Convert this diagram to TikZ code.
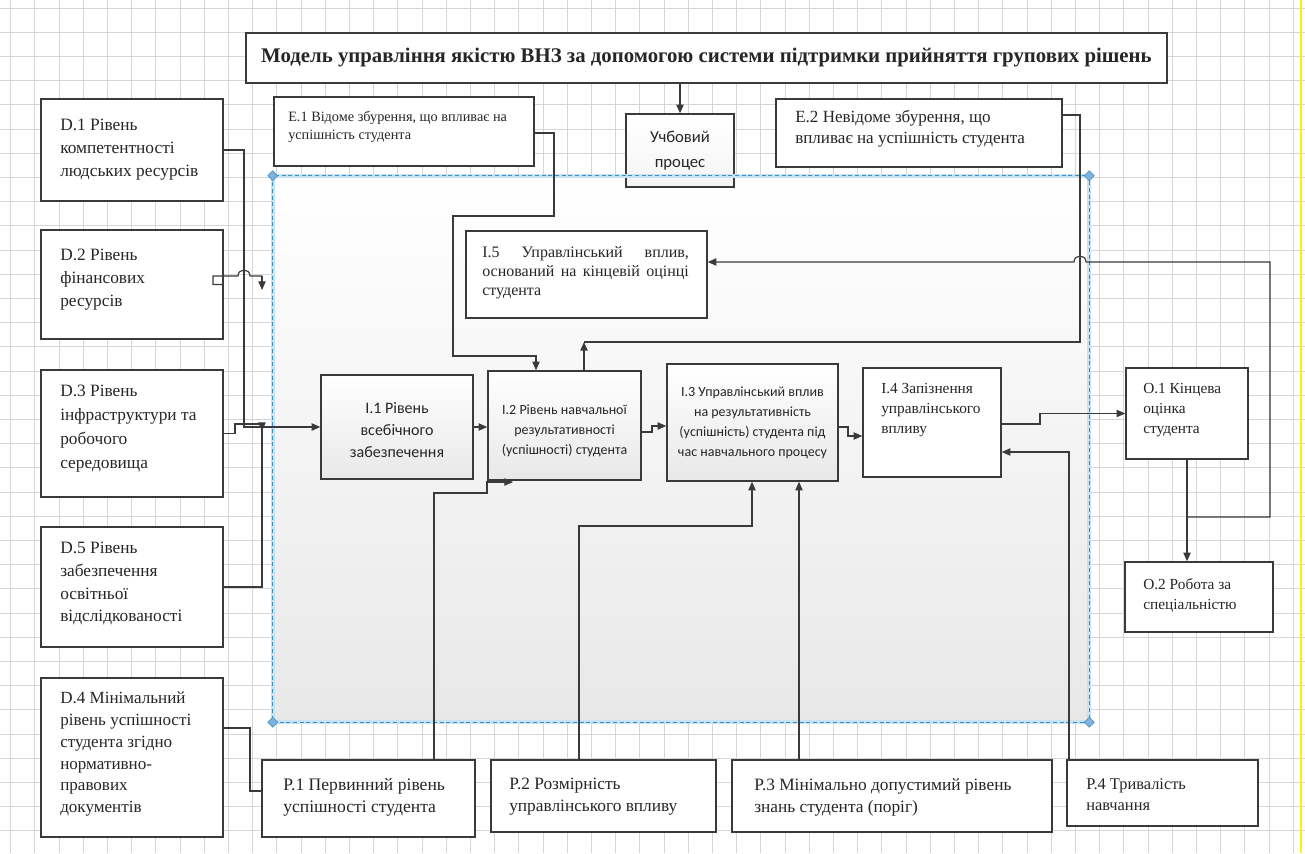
\documentclass[tikz,border=0pt]{standalone}
\usepackage{fontspec}
\setmainfont{Liberation Serif}
\newfontfamily\boxsans{Carlito}
\usetikzlibrary{arrows.meta,calc,fit}

\definecolor{edgecol}{HTML}{3A3A3A}
\definecolor{wirecol}{HTML}{3A3A3A}
\definecolor{gridcol}{HTML}{D6D6D6}
\definecolor{frameblue}{HTML}{3F8CBF}
\definecolor{frameglow}{HTML}{C6E2F3}
\definecolor{diamfill}{HTML}{7FB2DD}
\definecolor{markyellow}{HTML}{FFF200}
\definecolor{inkcol}{HTML}{262626}

\tikzset{
  plainbox/.style={draw=edgecol, line width=1.1pt, fill=white, inner sep=0pt, fit={#1}},
  shadebox/.style={draw=edgecol, line width=1.1pt, top color=white, bottom color=black!9, inner sep=0pt, fit={#1}},
  wire/.style={draw=wirecol, line width=0.85pt},
  arrowwire/.style={wire, -{Triangle[length=6.5pt,width=5.5pt]}},
  serifnote/.style={anchor=north west, inner sep=0pt, align=left, text=inkcol, font=\fontsize{13}{17}\selectfont},
  smallnote/.style={serifnote, font=\fontsize{10.7}{13.5}\selectfont},
  midnote/.style={serifnote, font=\fontsize{11.5}{15}\selectfont},
  sansnote/.style={inner sep=0pt, align=center, text=inkcol, font=\boxsans\fontsize{10.5}{15}\selectfont},
}

\begin{document}
\begin{tikzpicture}[x=0.75pt,y=-0.75pt]
\useasboundingbox (0,0) rectangle (1305,853);
\fill[white] (0,0) rectangle (1305,853);

% background grid
\foreach \i in {0,...,53}
  \draw[gridcol, line width=0.5pt] ({10.5+\i*24.2},0) -- ({10.5+\i*24.2},853);
\foreach \j in {0,...,35}
  \draw[gridcol, line width=0.5pt] (0,{8+\j*24.2}) -- (1305,{8+\j*24.2});
\draw[markyellow, line width=2.2pt] (1301,0) -- (1301,853);

% shaded process area
\node[inner sep=0pt, top color=white, bottom color=black!9, fit={(273,176) (1089,722)}] (frame) {};

% title and the learning process
\node[plainbox={(246,33) (1167,83)}] (title) {};
\node[inner sep=0pt, font=\bfseries\fontsize{15.6}{18}\selectfont, text=inkcol] (titlet) at (title.center)
  {Модель управління якістю ВНЗ за допомогою системи підтримки прийняття групових рішень};
\node[plainbox={(626,114) (734,187)}, top color=white, bottom color=black!4] (U) {};
\node[sansnote, font=\boxsans\fontsize{12.5}{19}\selectfont] (Ut) at (U.center) {Учбовий\\процес};

% dashed border of the process area
\draw[frameglow, line width=3pt] (frame.north west) rectangle (frame.south east);
\draw[frameblue, line width=0.8pt, dash pattern=on 3pt off 2pt] (frame.north west) rectangle (frame.south east);
\foreach \c in {north west, north east, south west, south east}
  \fill[diamfill, draw=frameblue, line width=0.4pt] ($(frame.\c)+(-5,0)$) -- ++(5,-5) -- ++(5,5) -- ++(-5,5) -- cycle;

% disturbances
\node[plainbox={(274,97) (534,166)}] (E1) {};
\node[smallnote] (E1t) at (288,111) {Е.1 Відоме збурення, що впливає на\\успішність студента};
\node[plainbox={(776,99) (1062,167)}] (E2) {};
\node[serifnote, font=\fontsize{12.8}{16}\selectfont] (E2t) at (795,110) {Е.2 Невідоме збурення, що\\впливає на успішність студента};

% resources
\node[plainbox={(41,99) (223,201)}] (D1) {};
\node[serifnote] (D1t) at (60,119) {D.1 Рівень\\компетентності\\людських ресурсів};
\node[plainbox={(41,230) (223,339)}] (D2) {};
\node[serifnote] (D2t) at (60,249) {D.2 Рівень\\фінансових\\ресурсів};
\node[plainbox={(41,370) (223,497)}] (D3) {};
\node[serifnote, font=\fontsize{13}{18}\selectfont] (D3t) at (60,385) {D.3 Рівень\\інфраструктури та\\робочого\\середовища};
\node[plainbox={(41,527) (223,647)}] (D5) {};
\node[serifnote] (D5t) at (60,542) {D.5 Рівень\\забезпечення\\освітньої\\відслідкованості};
\node[plainbox={(41,678) (223,837)}] (D4) {};
\node[serifnote, font=\fontsize{12.8}{16.3}\selectfont] (D4t) at (60,692) {D.4 Мінімальний\\рівень успішності\\студента згідно\\нормативно-\\правових\\документів};

% process blocks
\node[plainbox={(466,231) (707,318)}] (I5) {};
\node[serifnote, font=\fontsize{12}{14.3}\selectfont] (I5t) at (482,246)
  {\makebox[155pt][s]{I.5 Управлінський вплив,}\\\makebox[155pt][s]{оснований на кінцевій оцінці}\\студента};
\node[shadebox={(321,375) (473,479)}] (I1) {};
\node[sansnote, font=\boxsans\fontsize{12}{16.5}\selectfont] (I1t) at ($(I1.center)+(0,3)$) {I.1 Рівень\\всебічного\\забезпечення};
\node[shadebox={(488,371) (641,480)}] (I2) {};
\node[sansnote] (I2t) at ($(I2.center)+(0,5)$) {I.2 Рівень навчальної\\результативності\\(успішності) студента};
\node[shadebox={(667,364) (838,481)}] (I3) {};
\node[sansnote] (I3t) at (I3.center) {I.3 Управлінський вплив\\на результативність\\(успішність) студента під\\час навчального процесу};
\node[plainbox={(863,368) (1001,477)}] (I4) {};
\node[midnote] (I4t) at (881,383) {I.4 Запізнення\\управлінського\\впливу};

% outputs
\node[plainbox={(1126,368) (1248,459)}] (O1) {};
\node[midnote] (O1t) at (1143,383) {O.1 Кінцева\\оцінка\\студента};
\node[plainbox={(1125,562) (1273,632)}] (O2) {};
\node[midnote] (O2t) at (1143,578) {O.2 Робота за\\спеціальністю};

% parameters
\node[plainbox={(262,760) (475,837)}] (P1) {};
\node[serifnote, font=\fontsize{13.2}{16.5}\selectfont] (P1t) at (283,778) {P.1 Первинний рівень\\успішності студента};
\node[plainbox={(491,760) (716,832)}] (P2) {};
\node[serifnote, font=\fontsize{13}{16.5}\selectfont] (P2t) at (509,778) {P.2 Розмірність\\управлінського впливу};
\node[plainbox={(732,760) (1052,832)}] (P3) {};
\node[serifnote, font=\fontsize{13}{16.5}\selectfont] (P3t) at (754,778) {P.3 Мінімально допустимий рівень\\знань студента (поріг)};
\node[plainbox={(1067,760) (1258,826)}] (P4) {};
\node[serifnote, font=\fontsize{12.3}{16}\selectfont] (P4t) at (1086,778) {P.4 Тривалість\\навчання};

% free ends of the short connectors
\coordinate (d2end) at (262,290);
\coordinate (d3end) at (262,431);
\coordinate (p1end) at (513,482);
\coordinate (fb) at (O1.south |- 0,517);

% resources into I.1
\draw[arrowwire] (D1.east) -| (244,427) -- (I1.west);
\draw[wire] (D2.east) -- (213,284.5) -- (213,276) -- (238,276)
  .. controls (238,268) and (250,268) .. (250,276) -- (262,276);
\draw[arrowwire] (262,276) -- (d2end);
\draw[wire] (D3.east) -- (235,433.5) -- (235,424) -- (262,424);
\draw[arrowwire] (262,424) -- (d3end);
\draw[wire] (D5.east) -| (262,427);
\draw[wire] (D4.east |- 0,728) -- (250,728) -- (250,791) -- (P1.west |- 0,791);

% title to learning process
\draw[arrowwire] (title.south -| U.north) -- (U.north);

% disturbances
\draw[arrowwire] (E1.east |- 0,133) -- (554,133) -- (554,216) -- (453,216) -- (453,356) -- (536,356) -- (I2.north -| 536,0);
\draw[wire] (E2.east |- 0,115) -- (1080,115) -- (1080,342) -- (584,342);
\draw[arrowwire] (I2.north -| 584,0) -- (584,342);

% chain of process blocks
\draw[arrowwire] (I1.east) -- (I2.west |- I1.east);
\draw[arrowwire] (I2.east |- 0,432) -- (652,432) -- (652,426) -- (I3.west |- 0,426);
\draw[arrowwire] (I3.east |- 0,427) -- (848,427) -- (848,436) -- (I4.west |- 0,436);
\draw[arrowwire] (I4.east |- 0,424) -- (1040,424) |- (O1.west);

% outputs and feedback
\draw[arrowwire] (O1.south) -- (O1.south |- O2.north);
\draw[arrowwire] (fb) -- (1270,517) -- (1270,262) -- (1086,262)
  .. controls (1086,254) and (1074,254) .. (1074,262) -- (I5.east |- 0,262);

% parameters
\draw[arrowwire] (P1.north -| 434,0) -- (434,493) -- (487,493) -- (487,482) -- (p1end);
\draw[arrowwire] (P2.north -| 579,0) -- (579,526) -- (752,526) -- (I3.south -| 752,0);
\draw[arrowwire] (P3.north -| 799,0) -- (I3.south -| 799,0);
\draw[arrowwire] (P4.north -| 1069,0) -- (1069,452) -- (I4.east |- 0,452);
\end{tikzpicture}
\end{document}
